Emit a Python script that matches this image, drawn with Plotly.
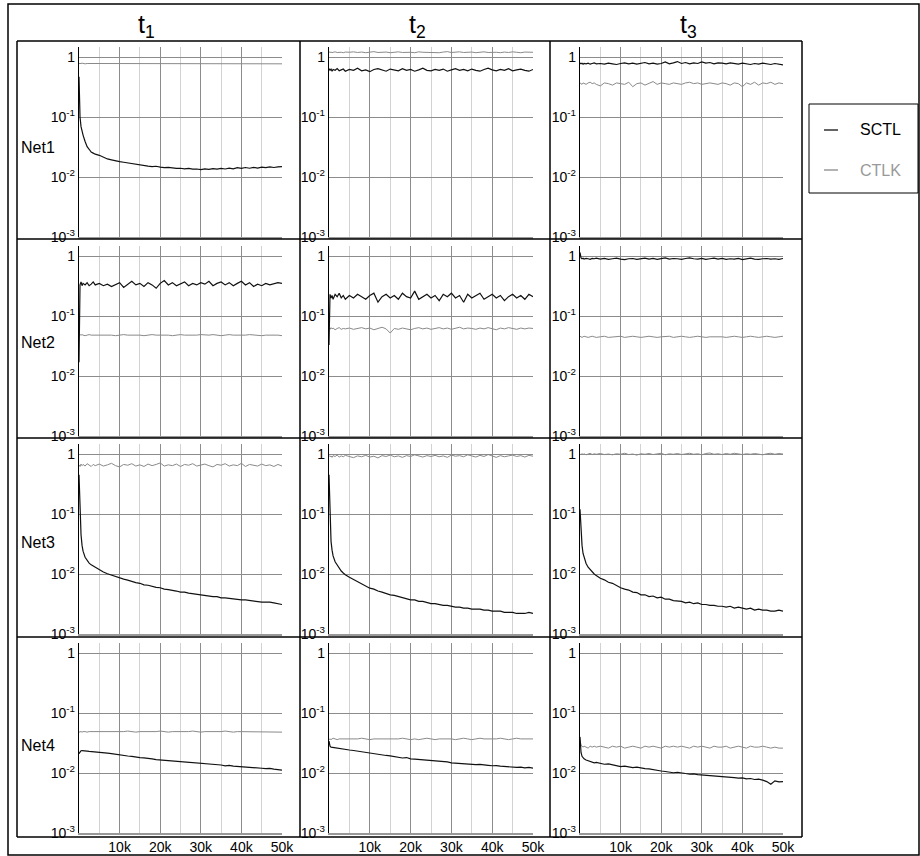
import plotly.graph_objects as go

W, H = 920, 856

# ---------------- data ----------------
X_ITER = [0, 250, 500, 750, 1000, 1500, 2000, 2500, 3000, 3500, 4000,
          5000, 6000, 7000, 8000, 9000, 10000, 11000, 12000, 13000, 14000,
          15000, 16000, 17000, 18000, 19000, 20000, 21000, 22000, 23000, 24000,
          25000, 26000, 27000, 28000, 29000, 30000, 31000, 32000, 33000, 34000,
          35000, 36000, 37000, 38000, 39000, 40000, 41000, 42000, 43000, 44000,
          45000, 46000, 47000, 48000, 49000, 50000]

COLUMN_TITLES = ["t<sub>1</sub>", "t<sub>2</sub>", "t<sub>3</sub>"]
ROW_LABELS = ["Net1", "Net2", "Net3", "Net4"]
SERIES_NAMES = ["SCTL", "CTLK"]
X_TICK_VALUES = [10000, 20000, 30000, 40000, 50000]
X_TICK_TEXT = ["10k", "20k", "30k", "40k", "50k"]
Y_TICK_VALUES = [0.001, 0.01, 0.1, 1]
Y_TICK_TEXT = ["10<sup>-3</sup>", "10<sup>-2</sup>", "10<sup>-1</sup>", "1"]

# Net1
NET1_T1_SCTL = [0.47, 0.10, 0.069, 0.057, 0.05, 0.039, 0.032, 0.029, 0.026, 0.025, 0.024,
                0.023, 0.0215, 0.020, 0.0193, 0.0185, 0.018, 0.0176, 0.0171, 0.0168, 0.0163,
                0.016, 0.0156, 0.0152, 0.0149, 0.0151, 0.0146, 0.0143, 0.0145, 0.0141, 0.0139,
                0.0140, 0.0137, 0.0139, 0.0135, 0.0136, 0.0133, 0.0137, 0.0134, 0.0138, 0.0135,
                0.0139, 0.0136, 0.0141, 0.0137, 0.0143, 0.0139, 0.0144, 0.0140, 0.0145, 0.0141,
                0.0146, 0.0143, 0.0148, 0.0144, 0.0147, 0.0149]
NET1_T1_CTLK = [0.78, 0.77, 0.78, 0.79, 0.78, 0.77, 0.78, 0.78, 0.79, 0.78, 0.77,
                0.78, 0.79, 0.78, 0.77, 0.78, 0.78, 0.79, 0.78, 0.77, 0.78,
                0.78, 0.79, 0.78, 0.78, 0.77, 0.78, 0.79, 0.78, 0.78, 0.77,
                0.78, 0.78, 0.79, 0.78, 0.77, 0.78, 0.78, 0.79, 0.78, 0.78,
                0.77, 0.78, 0.79, 0.78, 0.78, 0.77, 0.78, 0.79, 0.78, 0.78,
                0.77, 0.78, 0.78, 0.79, 0.78, 0.77]
NET1_T2_SCTL = [0.64, 0.60, 0.63, 0.58, 0.62, 0.60, 0.64, 0.59, 0.61, 0.63, 0.58,
                0.62, 0.60, 0.65, 0.59, 0.61, 0.57, 0.62, 0.64, 0.60, 0.58,
                0.63, 0.61, 0.59, 0.64, 0.60, 0.62, 0.58, 0.61, 0.65, 0.60,
                0.59, 0.62, 0.60, 0.63, 0.58, 0.61, 0.64, 0.60, 0.62, 0.59,
                0.63, 0.60, 0.58, 0.62, 0.65, 0.61, 0.59, 0.62, 0.60, 0.64,
                0.59, 0.61, 0.63, 0.60, 0.58, 0.62]
NET1_T2_CTLK = [1.22, 1.19, 1.21, 1.18, 1.20, 1.22, 1.19, 1.21, 1.20, 1.18, 1.21,
                1.20, 1.22, 1.19, 1.21, 1.18, 1.20, 1.23, 1.19, 1.20, 1.21,
                1.18, 1.20, 1.22, 1.19, 1.21, 1.20, 1.18, 1.22, 1.20, 1.19,
                1.21, 1.20, 1.18, 1.21, 1.23, 1.19, 1.20, 1.22, 1.19, 1.20,
                1.21, 1.18, 1.20, 1.22, 1.19, 1.21, 1.20, 1.18, 1.21, 1.19,
                1.22, 1.20, 1.18, 1.21, 1.19, 1.20]
NET1_T3_SCTL = [0.80, 0.77, 0.79, 0.76, 0.78, 0.77, 0.79, 0.76, 0.78, 0.80, 0.77,
                0.78, 0.76, 0.79, 0.77, 0.75, 0.78, 0.80, 0.77, 0.79, 0.76,
                0.78, 0.81, 0.77, 0.79, 0.76, 0.78, 0.83, 0.77, 0.80, 0.84,
                0.78, 0.81, 0.77, 0.80, 0.78, 0.83, 0.79, 0.81, 0.77, 0.80,
                0.79, 0.77, 0.80, 0.78, 0.76, 0.79, 0.77, 0.75, 0.78, 0.76,
                0.79, 0.77, 0.75, 0.78, 0.76, 0.74]
NET1_T3_CTLK = [0.37, 0.36, 0.35, 0.37, 0.36, 0.35, 0.37, 0.38, 0.36, 0.37, 0.35,
                0.33, 0.37, 0.36, 0.34, 0.37, 0.36, 0.35, 0.38, 0.32, 0.36,
                0.37, 0.34, 0.36, 0.39, 0.35, 0.37, 0.36, 0.35, 0.37, 0.36,
                0.35, 0.37, 0.38, 0.36, 0.37, 0.35, 0.36, 0.37, 0.36, 0.35,
                0.37, 0.36, 0.34, 0.37, 0.36, 0.32, 0.37, 0.35, 0.38, 0.34,
                0.37, 0.36, 0.38, 0.35, 0.37, 0.36]

# Net2
NET2_T1_SCTL = [0.017, 0.33, 0.37, 0.32, 0.35, 0.33, 0.36, 0.32, 0.34, 0.37, 0.33,
                0.35, 0.32, 0.34, 0.31, 0.33, 0.36, 0.30, 0.34, 0.38, 0.33,
                0.35, 0.31, 0.36, 0.33, 0.29, 0.35, 0.39, 0.33, 0.36, 0.32,
                0.34, 0.37, 0.32, 0.35, 0.33, 0.36, 0.34, 0.38, 0.32, 0.35,
                0.37, 0.33, 0.36, 0.32, 0.35, 0.38, 0.33, 0.36, 0.31, 0.34,
                0.32, 0.35, 0.33, 0.34, 0.36, 0.35]
NET2_T1_CTLK = [0.048, 0.049, 0.048, 0.049, 0.048, 0.047, 0.048, 0.049, 0.048, 0.048, 0.049,
                0.048, 0.048, 0.049, 0.048, 0.047, 0.048, 0.049, 0.048, 0.048, 0.049,
                0.048, 0.047, 0.048, 0.049, 0.048, 0.048, 0.049, 0.048, 0.047, 0.048,
                0.049, 0.048, 0.048, 0.047, 0.048, 0.049, 0.048, 0.048, 0.049, 0.048,
                0.047, 0.048, 0.049, 0.048, 0.048, 0.047, 0.048, 0.049, 0.048, 0.048,
                0.047, 0.048, 0.048, 0.049, 0.048, 0.047]
NET2_T2_SCTL = [0.033, 0.23, 0.20, 0.22, 0.19, 0.23, 0.21, 0.24, 0.20, 0.22, 0.19,
                0.22, 0.20, 0.23, 0.21, 0.19, 0.22, 0.24, 0.17, 0.21, 0.23,
                0.20, 0.22, 0.19, 0.24, 0.21, 0.20, 0.26, 0.19, 0.21, 0.23,
                0.20, 0.22, 0.18, 0.23, 0.21, 0.24, 0.20, 0.22, 0.17, 0.23,
                0.20, 0.22, 0.24, 0.19, 0.21, 0.23, 0.20, 0.22, 0.18, 0.21,
                0.23, 0.20, 0.22, 0.19, 0.23, 0.21]
NET2_T2_CTLK = [0.063, 0.060, 0.064, 0.061, 0.063, 0.059, 0.062, 0.064, 0.060, 0.062, 0.061,
                0.063, 0.060, 0.062, 0.064, 0.061, 0.063, 0.059, 0.062, 0.065, 0.061,
                0.052, 0.062, 0.060, 0.063, 0.061, 0.059, 0.062, 0.064, 0.061, 0.063,
                0.060, 0.062, 0.064, 0.061, 0.063, 0.060, 0.062, 0.065, 0.061, 0.063,
                0.062, 0.060, 0.063, 0.061, 0.064, 0.062, 0.059, 0.063, 0.061, 0.064,
                0.062, 0.060, 0.063, 0.061, 0.063, 0.062]
NET2_T3_SCTL = [1.15, 0.93, 0.90, 0.92, 0.89, 0.91, 0.90, 0.88, 0.91, 0.90, 0.92,
                0.89, 0.91, 0.88, 0.90, 0.92, 0.89, 0.87, 0.90, 0.91, 0.88,
                0.90, 0.92, 0.89, 0.91, 0.88, 0.90, 0.93, 0.89, 0.91, 0.90,
                0.88, 0.91, 0.93, 0.90, 0.89, 0.91, 0.88, 0.90, 0.92, 0.89,
                0.91, 0.88, 0.90, 0.89, 0.91, 0.87, 0.90, 0.92, 0.89, 0.88,
                0.90, 0.91, 0.89, 0.90, 0.88, 0.91]
NET2_T3_CTLK = [0.046, 0.045, 0.044, 0.045, 0.046, 0.045, 0.044, 0.045, 0.046, 0.045, 0.044,
                0.045, 0.046, 0.044, 0.045, 0.045, 0.046, 0.044, 0.045, 0.046, 0.045,
                0.044, 0.045, 0.046, 0.045, 0.044, 0.045, 0.045, 0.046, 0.044, 0.045,
                0.046, 0.045, 0.044, 0.045, 0.046, 0.045, 0.044, 0.045, 0.045, 0.046,
                0.045, 0.044, 0.045, 0.046, 0.045, 0.044, 0.045, 0.046, 0.045, 0.044,
                0.045, 0.046, 0.045, 0.044, 0.045, 0.046]

# Net3
NET3_T1_SCTL = [0.45, 0.09, 0.045, 0.030, 0.024, 0.019, 0.0165, 0.0152, 0.0142, 0.0135, 0.0128,
                0.0118, 0.0108, 0.0101, 0.0096, 0.0089, 0.0086, 0.0082, 0.0079, 0.0075, 0.0072,
                0.0070, 0.0066, 0.0065, 0.0062, 0.0060, 0.0059, 0.0056, 0.0055, 0.0054, 0.0052,
                0.0050, 0.0050, 0.0048, 0.0047, 0.0045, 0.0045, 0.0044, 0.0043, 0.0042, 0.0042,
                0.0040, 0.0040, 0.0039, 0.0039, 0.0038, 0.0037, 0.0037, 0.0036, 0.0035, 0.0035,
                0.0034, 0.0034, 0.0034, 0.0033, 0.0032, 0.0031]
NET3_T1_CTLK = [0.66, 0.62, 0.68, 0.64, 0.67, 0.63, 0.69, 0.65, 0.62, 0.67, 0.64,
                0.68, 0.63, 0.66, 0.70, 0.64, 0.61, 0.67, 0.65, 0.69, 0.63,
                0.66, 0.62, 0.68, 0.64, 0.67, 0.71, 0.63, 0.66, 0.64, 0.68,
                0.62, 0.67, 0.65, 0.69, 0.63, 0.66, 0.68, 0.64, 0.61, 0.67,
                0.65, 0.69, 0.63, 0.66, 0.64, 0.70, 0.62, 0.67, 0.65, 0.63,
                0.68, 0.64, 0.66, 0.62, 0.67, 0.63]
NET3_T2_SCTL = [0.45, 0.07, 0.035, 0.025, 0.020, 0.016, 0.014, 0.0125, 0.0112, 0.0104, 0.0097,
                0.0088, 0.0081, 0.0073, 0.0068, 0.0062, 0.0058, 0.0056, 0.0052, 0.0050, 0.0047,
                0.0045, 0.0044, 0.0042, 0.0041, 0.0039, 0.0037, 0.0037, 0.0035, 0.0035, 0.0033,
                0.0032, 0.0032, 0.0031, 0.0030, 0.0030, 0.0029, 0.0028, 0.0028, 0.0027, 0.0027,
                0.0026, 0.0026, 0.0026, 0.0025, 0.0025, 0.0024, 0.0024, 0.0024, 0.0023, 0.0023,
                0.0023, 0.0022, 0.0022, 0.0022, 0.0023, 0.0022]
NET3_T2_CTLK = [0.95, 0.90, 0.93, 0.88, 0.94, 0.91, 0.96, 0.89, 0.93, 0.90, 0.95,
                0.91, 0.87, 0.93, 0.90, 0.95, 0.89, 0.92, 0.86, 0.94, 0.91,
                0.96, 0.90, 0.93, 0.88, 0.94, 0.91, 0.97, 0.92, 0.89, 0.94,
                0.91, 0.95, 0.90, 0.93, 0.88, 0.96, 0.92, 0.94, 0.90, 0.97,
                0.93, 0.89, 0.95, 0.91, 0.98, 0.92, 0.88, 0.94, 0.90, 0.93,
                0.96, 0.91, 0.94, 0.89, 0.95, 0.92]
NET3_T3_SCTL = [0.12, 0.05, 0.030, 0.022, 0.019, 0.015, 0.013, 0.0118, 0.0108, 0.0100, 0.0094,
                0.0085, 0.0080, 0.0073, 0.0070, 0.0064, 0.0059, 0.0056, 0.0054, 0.0050, 0.0049,
                0.0045, 0.0045, 0.0042, 0.0043, 0.0040, 0.0041, 0.0038, 0.0038, 0.0036, 0.0036,
                0.0035, 0.0033, 0.0034, 0.0032, 0.0033, 0.0031, 0.0031, 0.0030, 0.0030, 0.0029,
                0.0029, 0.0028, 0.0029, 0.0027, 0.0028, 0.0027, 0.0026, 0.0027, 0.0025, 0.0026,
                0.0025, 0.0025, 0.0024, 0.0024, 0.0025, 0.0024]
NET3_T3_CTLK = [1.00, 0.97, 1.02, 0.98, 1.01, 0.97, 1.00, 1.03, 0.98, 1.01, 0.99,
                1.02, 0.98, 1.00, 0.97, 1.01, 0.99, 1.03, 0.98, 1.00, 0.96,
                1.01, 0.99, 1.02, 0.98, 1.00, 1.03, 0.97, 1.01, 0.99, 1.02,
                0.98, 1.00, 1.03, 0.99, 1.01, 0.97, 1.02, 1.04, 0.99, 1.01,
                0.98, 1.02, 0.99, 1.03, 1.00, 0.98, 1.01, 0.99, 1.02, 1.00,
                0.97, 1.01, 1.03, 0.99, 1.02, 1.00]

# Net4
NET4_T1_SCTL = [0.021, 0.023, 0.0235, 0.0236, 0.0234, 0.0233, 0.0231, 0.0229, 0.0228, 0.0226, 0.0225,
                0.0222, 0.0218, 0.0215, 0.0211, 0.0205, 0.0200, 0.0198, 0.0192, 0.0189, 0.0183,
                0.0181, 0.0179, 0.0173, 0.0172, 0.0167, 0.0165, 0.0163, 0.0159, 0.0160, 0.0155,
                0.0153, 0.0150, 0.0151, 0.0147, 0.0145, 0.0145, 0.0141, 0.0142, 0.0138, 0.0137,
                0.0136, 0.0132, 0.0134, 0.0130, 0.0129, 0.0128, 0.0125, 0.0126, 0.0122, 0.0121,
                0.0120, 0.0118, 0.0119, 0.0116, 0.0114, 0.0112]
NET4_T1_CTLK = [0.048, 0.049, 0.049, 0.048, 0.049, 0.049, 0.048, 0.049, 0.049, 0.048, 0.049,
                0.049, 0.048, 0.049, 0.049, 0.048, 0.049, 0.049, 0.050, 0.049, 0.048,
                0.049, 0.049, 0.048, 0.049, 0.049, 0.050, 0.049, 0.048, 0.049, 0.049,
                0.048, 0.049, 0.049, 0.050, 0.049, 0.048, 0.049, 0.049, 0.048, 0.049,
                0.049, 0.050, 0.049, 0.048, 0.049, 0.049, 0.048, 0.049, 0.049, 0.048,
                0.049, 0.049, 0.048, 0.049, 0.049, 0.048]
NET4_T2_SCTL = [0.034, 0.028, 0.027, 0.0268, 0.0265, 0.0262, 0.0258, 0.0255, 0.0252, 0.0250, 0.0248,
                0.0242, 0.0237, 0.0231, 0.0227, 0.0218, 0.0213, 0.0210, 0.0204, 0.0201, 0.0196,
                0.0193, 0.0189, 0.0185, 0.0178, 0.0181, 0.0172, 0.0170, 0.0168, 0.0164, 0.0163,
                0.0160, 0.0157, 0.0155, 0.0152, 0.0153, 0.0148, 0.0146, 0.0147, 0.0143, 0.0142,
                0.0140, 0.0138, 0.0139, 0.0135, 0.0134, 0.0132, 0.0133, 0.0130, 0.0128, 0.0129,
                0.0126, 0.0124, 0.0125, 0.0122, 0.0124, 0.0121]
NET4_T2_CTLK = [0.036, 0.037, 0.036, 0.037, 0.038, 0.037, 0.036, 0.037, 0.037, 0.036, 0.037,
                0.037, 0.036, 0.037, 0.038, 0.037, 0.036, 0.037, 0.037, 0.036, 0.037,
                0.037, 0.036, 0.037, 0.038, 0.037, 0.036, 0.037, 0.036, 0.037, 0.038,
                0.037, 0.036, 0.037, 0.037, 0.038, 0.037, 0.036, 0.037, 0.038, 0.037,
                0.036, 0.037, 0.038, 0.037, 0.037, 0.036, 0.037, 0.038, 0.037, 0.036,
                0.037, 0.038, 0.037, 0.037, 0.036, 0.037]
NET4_T3_SCTL = [0.040, 0.022, 0.019, 0.0178, 0.0172, 0.0165, 0.0160, 0.0154, 0.0151, 0.0148, 0.0150,
                0.0145, 0.0140, 0.0142, 0.0137, 0.0134, 0.0128, 0.0130, 0.0126, 0.0123, 0.0125,
                0.0121, 0.0118, 0.0117, 0.0113, 0.0110, 0.0108, 0.0106, 0.0104, 0.0101, 0.0103,
                0.0099, 0.0098, 0.0096, 0.0097, 0.0094, 0.0093, 0.0092, 0.0090, 0.0091, 0.0088,
                0.0087, 0.0088, 0.0085, 0.0084, 0.0082, 0.0083, 0.0080, 0.0081, 0.0078, 0.0079,
                0.0076, 0.0072, 0.0065, 0.0074, 0.0071, 0.0072]
NET4_T3_CTLK = [0.035, 0.029, 0.028, 0.027, 0.028, 0.027, 0.026, 0.028, 0.027, 0.028, 0.027,
                0.028, 0.027, 0.026, 0.028, 0.027, 0.028, 0.026, 0.027, 0.028, 0.027,
                0.026, 0.028, 0.027, 0.028, 0.027, 0.026, 0.028, 0.027, 0.028, 0.027,
                0.028, 0.027, 0.026, 0.028, 0.027, 0.028, 0.027, 0.026, 0.028, 0.027,
                0.027, 0.028, 0.026, 0.027, 0.028, 0.027, 0.026, 0.028, 0.027, 0.027,
                0.028, 0.027, 0.026, 0.027, 0.026, 0.026]

PANELS = [
    [(NET1_T1_SCTL, NET1_T1_CTLK), (NET1_T2_SCTL, NET1_T2_CTLK), (NET1_T3_SCTL, NET1_T3_CTLK)],
    [(NET2_T1_SCTL, NET2_T1_CTLK), (NET2_T2_SCTL, NET2_T2_CTLK), (NET2_T3_SCTL, NET2_T3_CTLK)],
    [(NET3_T1_SCTL, NET3_T1_CTLK), (NET3_T2_SCTL, NET3_T2_CTLK), (NET3_T3_SCTL, NET3_T3_CTLK)],
    [(NET4_T1_SCTL, NET4_T1_CTLK), (NET4_T2_SCTL, NET4_T2_CTLK), (NET4_T3_SCTL, NET4_T3_CTLK)],
]

# ---------------- layout geometry (pixels) ----------------
FONT = "Arial, Liberation Sans, Helvetica, sans-serif"
SCTL_COLOR = "#111111"
CTLK_COLOR = "#8a8a8a"
COL_PX = [(79, 282), (329, 533), (580, 783)]
ROW_PX = [(47, 237), (246, 436), (444, 634), (643, 833)]   # (top, bottom)


def px(x):
    return x / W


def py(y):
    return 1 - y / H


fig = go.Figure()
layout = dict(
    width=W, height=H, autosize=False,
    margin=dict(l=0, r=0, t=0, b=0, pad=0, autoexpand=False),
    paper_bgcolor="white", plot_bgcolor="white",
    showlegend=False,
    font=dict(family=FONT, color="black", size=13),
)

for r in range(4):
    for c in range(3):
        k = r * 3 + c + 1
        xa = "x" if k == 1 else f"x{k}"
        ya = "y" if k == 1 else f"y{k}"
        sctl, ctlk = PANELS[r][c]
        fig.add_trace(go.Scatter(x=X_ITER, y=ctlk, mode="lines", name=SERIES_NAMES[1],
                                 line=dict(color=CTLK_COLOR, width=1), xaxis=xa, yaxis=ya))
        fig.add_trace(go.Scatter(x=X_ITER, y=sctl, mode="lines", name=SERIES_NAMES[0],
                                 line=dict(color=SCTL_COLOR, width=1.2), xaxis=xa, yaxis=ya))
        x0, x1 = COL_PX[c]
        top, bot = ROW_PX[r]
        layout["xaxis" if k == 1 else f"xaxis{k}"] = dict(
            domain=[px(x0), px(x1)], anchor=ya, range=[0, 50000], automargin=False,
            tickvals=X_TICK_VALUES, ticktext=X_TICK_TEXT,
            showticklabels=(r == 3), ticks="",
            tickfont=dict(size=14, family=FONT, color="black"),
            showgrid=True, gridcolor="#8c8c8c", gridwidth=1,
            minor=dict(dtick=5000, tick0=0, showgrid=True, gridcolor="#d2d2d2", gridwidth=1),
            zeroline=False, showline=True, linecolor="#999999", linewidth=2,
            fixedrange=True,
        )
        layout["yaxis" if k == 1 else f"yaxis{k}"] = dict(
            domain=[py(bot), py(top)], anchor=xa, type="log", range=[-3, 0.167], automargin=False,
            tickvals=Y_TICK_VALUES, ticktext=Y_TICK_TEXT, ticks="", ticklen=0,
            tickfont=dict(size=14, family=FONT, color="black"),
            ticklabelstandoff=0,
            showgrid=True, gridcolor="#8c8c8c", gridwidth=1,
            zeroline=False, showline=True, linecolor="black", linewidth=1.3,
            fixedrange=True,
        )

fig.update_layout(**layout)

# frames
shapes = []
line_k = dict(color="black", width=1.5)
shapes.append(dict(type="rect", xref="paper", yref="paper",
                   x0=px(8), x1=px(919), y0=py(855), y1=py(4), line=dict(color="black", width=1.5)))
for xv in [17, 300, 550, 802]:
    shapes.append(dict(type="line", xref="paper", yref="paper",
                       x0=px(xv), x1=px(xv), y0=py(837), y1=py(41), line=line_k))
for yv in [41, 239, 438, 637, 837]:
    shapes.append(dict(type="line", xref="paper", yref="paper",
                       x0=px(17), x1=px(802), y0=py(yv), y1=py(yv), line=line_k))
# legend box
shapes.append(dict(type="rect", xref="paper", yref="paper",
                   x0=px(809), x1=px(918), y0=py(193), y1=py(104),
                   line=dict(color="black", width=1)))
shapes.append(dict(type="line", xref="paper", yref="paper",
                   x0=px(824), x1=px(838), y0=py(130), y1=py(130),
                   line=dict(color=SCTL_COLOR, width=1.3)))
shapes.append(dict(type="line", xref="paper", yref="paper",
                   x0=px(824), x1=px(838), y0=py(170), y1=py(170),
                   line=dict(color=CTLK_COLOR, width=1.3)))

annotations = []
for i, (t, xc) in enumerate(zip(COLUMN_TITLES, [146, 417, 688])):
    annotations.append(dict(text=t, xref="paper", yref="paper", x=px(xc), y=py(26),
                            xanchor="center", yanchor="middle", showarrow=False,
                            font=dict(size=25, family=FONT, color="black")))
for i, (lab, yc) in enumerate(zip(ROW_LABELS, [148, 342, 542, 745])):
    annotations.append(dict(text=lab, xref="paper", yref="paper", x=px(19), y=py(yc),
                            xanchor="left", yanchor="middle", showarrow=False,
                            font=dict(size=16, family=FONT, color="black")))
annotations.append(dict(text=SERIES_NAMES[0], xref="paper", yref="paper", x=px(858), y=py(130),
                        xanchor="left", yanchor="middle", showarrow=False,
                        font=dict(size=16, family=FONT, color="black")))
annotations.append(dict(text=SERIES_NAMES[1], xref="paper", yref="paper", x=px(858), y=py(170),
                        xanchor="left", yanchor="middle", showarrow=False,
                        font=dict(size=16, family=FONT, color="#999999")))

fig.update_layout(shapes=shapes, annotations=annotations)
fig.write_html(
    "out.html",
    config={"displayModeBar": False},
    post_script="document.body.style.margin='0';",
)
